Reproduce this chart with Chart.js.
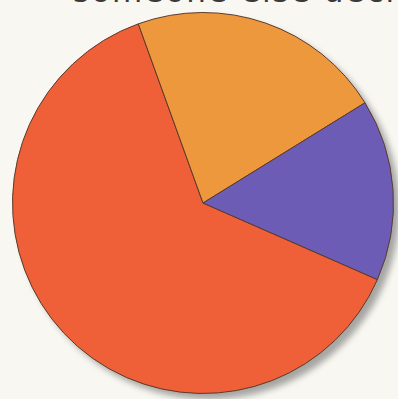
<!DOCTYPE html>
<html>
<head>
<meta charset="utf-8">
<script src="https://cdn.jsdelivr.net/npm/chart.js@4/dist/chart.umd.min.js"></script>
<style>
  html, body { margin: 0; padding: 0; background: #f8f7f1; overflow: hidden; }
  #wrap { position: relative; width: 398px; height: 399px; }
  #title {
    position: absolute; left: 73px; top: -27px; white-space: nowrap;
    font-family: "DejaVu Sans", sans-serif; font-size: 31px; color: #3a3a3a;
    letter-spacing: 2px;
  }
  canvas { position: absolute; left: 0; top: 0; }
</style>
</head>
<body>
<div id="wrap">
  <div id="title">someone else decide</div>
  <canvas id="pieChart" width="398" height="399"></canvas>
</div>
<script>
const labels = ['Red', 'Orange', 'Purple'];
const values = [62.9, 21.7, 15.4];
const colors = ['#ef5f38', '#ee983d', '#6d5cb6'];
const startAngle = 113.7;

// soft grey shadow under the pie, bottom-right
const pieShadow = {
    id: 'pieShadow',
    beforeDatasetsDraw(chart) {
        const arc = chart.getDatasetMeta(0).data[0];
        if (!arc) return;
        const c = chart.ctx;
        c.save();
        c.beginPath();
        c.arc(arc.x + 6, arc.y + 6, arc.outerRadius, 0, Math.PI * 2);
        c.fillStyle = 'rgba(110,110,110,0.6)';
        c.filter = 'blur(3px)';
        c.fill();
        c.restore();
    }
};

const ctx = document.getElementById('pieChart').getContext('2d');
new Chart(ctx, {
    type: 'pie',
    data: {
        labels: labels,
        datasets: [{
            data: values,
            backgroundColor: colors,
            borderColor: '#5a3a2a',
            borderWidth: 1
        }]
    },
    options: {
        responsive: false,
        animation: false,
        rotation: startAngle,
        layout: { padding: { left: 12, top: 12, right: 4, bottom: 5 } },
        plugins: {
            legend: { display: false },
            tooltip: { enabled: false }
        }
    },
    plugins: [pieShadow]
});
</script>
</body>
</html>
